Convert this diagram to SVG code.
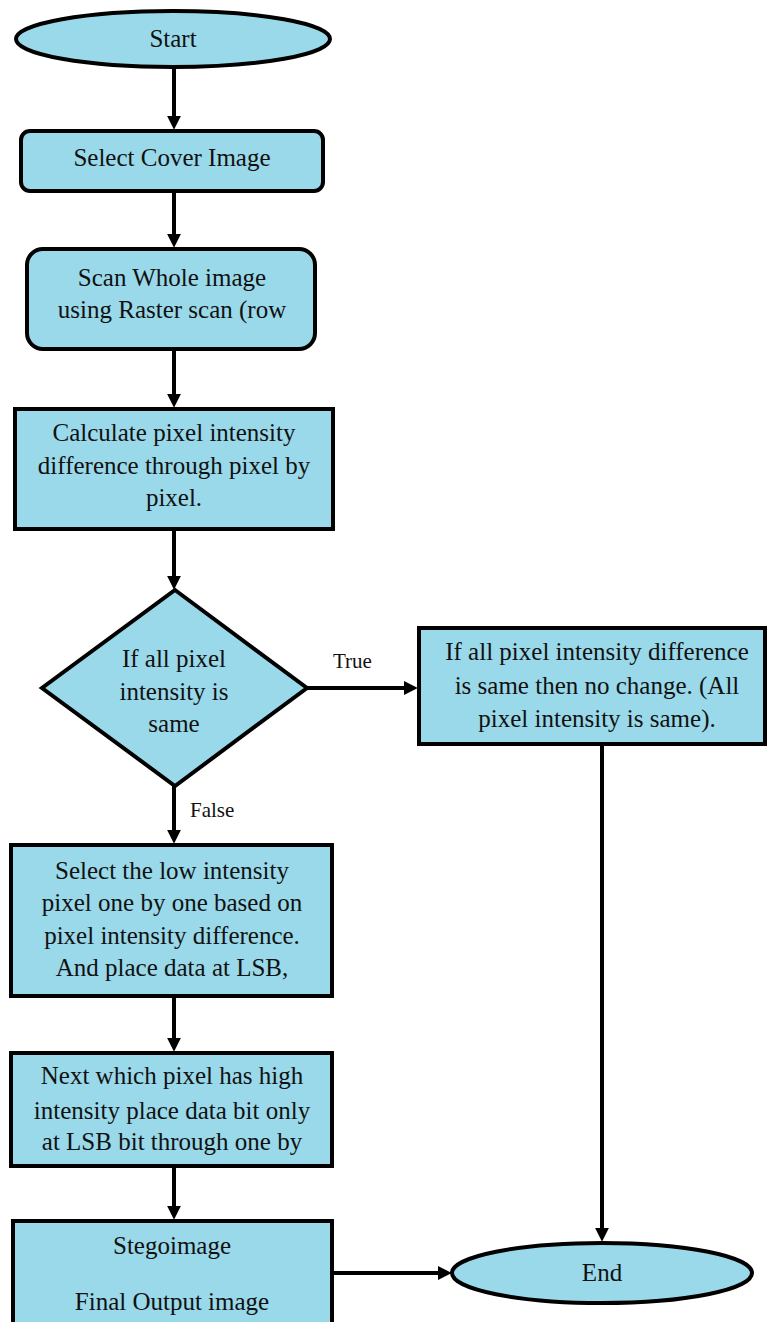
<svg xmlns="http://www.w3.org/2000/svg" width="768" height="1322" viewBox="0 0 768 1322">
<style>
.n{fill:#99d9ea;stroke:#000;stroke-width:4}
.t{font-family:'Liberation Serif','DejaVu Serif',serif;font-size:25px;fill:#111;text-anchor:middle}
.l{font-family:'Liberation Serif','DejaVu Serif',serif;font-size:21px;fill:#111}
.c{fill:none;stroke:#000;stroke-width:4}
</style>
<defs>
<marker id="ah" viewBox="0 0 10 10" refX="3" refY="5" markerWidth="14" markerHeight="14" markerUnits="userSpaceOnUse" orient="auto">
<path d="M0,0 L10,5 L0,10 z" fill="#000"/>
</marker>
</defs>
<rect width="768" height="1322" fill="#fff"/>
<g id="connectors">
<line class="c" x1="174" y1="68" x2="174" y2="120" marker-end="url(#ah)"/>
<line class="c" x1="174" y1="192" x2="174" y2="238" marker-end="url(#ah)"/>
<line class="c" x1="174" y1="350" x2="174" y2="398" marker-end="url(#ah)"/>
<line class="c" x1="174" y1="530" x2="174" y2="580" marker-end="url(#ah)"/>
<line class="c" x1="307" y1="688" x2="408" y2="688" marker-end="url(#ah)"/>
<text class="l" x="333" y="668">True</text>
<line class="c" x1="174" y1="786" x2="174" y2="834" marker-end="url(#ah)"/>
<text class="l" x="190" y="817">False</text>
<line class="c" x1="174" y1="997" x2="174" y2="1042" marker-end="url(#ah)"/>
<line class="c" x1="174" y1="1167" x2="174" y2="1210" marker-end="url(#ah)"/>
<line class="c" x1="332" y1="1273" x2="442" y2="1273" marker-end="url(#ah)"/>
<line class="c" x1="602" y1="744" x2="602" y2="1232" marker-end="url(#ah)"/>
</g>
<g id="start">
<ellipse class="n" cx="173" cy="39" rx="157" ry="28"/>
<text class="t" x="173" y="47">Start</text>
</g>
<g id="select-cover">
<rect class="n" x="21" y="131" width="302" height="60" rx="9"/>
<text class="t" x="172" y="166">Select Cover Image</text>
</g>
<g id="scan">
<rect class="n" x="27" y="249" width="288" height="100" rx="16"/>
<text class="t" x="172" y="286">Scan Whole image</text>
<text class="t" x="172" y="318">using Raster scan (row</text>
</g>
<g id="calculate">
<rect class="n" x="15" y="409" width="318" height="120"/>
<text class="t" x="174" y="441">Calculate pixel intensity</text>
<text class="t" x="174" y="474">difference through pixel by</text>
<text class="t" x="174" y="506">pixel.</text>
</g>
<g id="decision">
<polygon class="n" points="175,590 307,688 175,786 42,688"/>
<text class="t" x="174" y="667">If all pixel</text>
<text class="t" x="174" y="700">intensity is</text>
<text class="t" x="174" y="732">same</text>
</g>
<g id="no-change">
<rect class="n" x="419" y="628" width="346" height="116"/>
<text class="t" x="597" y="660">If all pixel intensity difference</text>
<text class="t" x="597" y="694">is same then no change. (All</text>
<text class="t" x="597" y="727">pixel intensity is same).</text>
</g>
<g id="select-low">
<rect class="n" x="11" y="845" width="321" height="151"/>
<text class="t" x="172" y="879">Select the low intensity</text>
<text class="t" x="172" y="911">pixel one by one based on</text>
<text class="t" x="172" y="944">pixel intensity difference.</text>
<text class="t" x="172" y="976">And place data at LSB,</text>
</g>
<g id="next">
<rect class="n" x="11" y="1053" width="321" height="113"/>
<text class="t" x="172" y="1084">Next which pixel has high</text>
<text class="t" x="172" y="1119">intensity place data bit only</text>
<text class="t" x="172" y="1150">at LSB bit through one by</text>
</g>
<g id="stego">
<rect class="n" x="13" y="1221" width="319" height="120"/>
<text class="t" x="172" y="1254">Stegoimage</text>
<text class="t" x="172" y="1310">Final Output image</text>
</g>
<g id="end">
<ellipse class="n" cx="602" cy="1273" rx="150" ry="30"/>
<text class="t" x="602" y="1281">End</text>
</g>
</svg>
